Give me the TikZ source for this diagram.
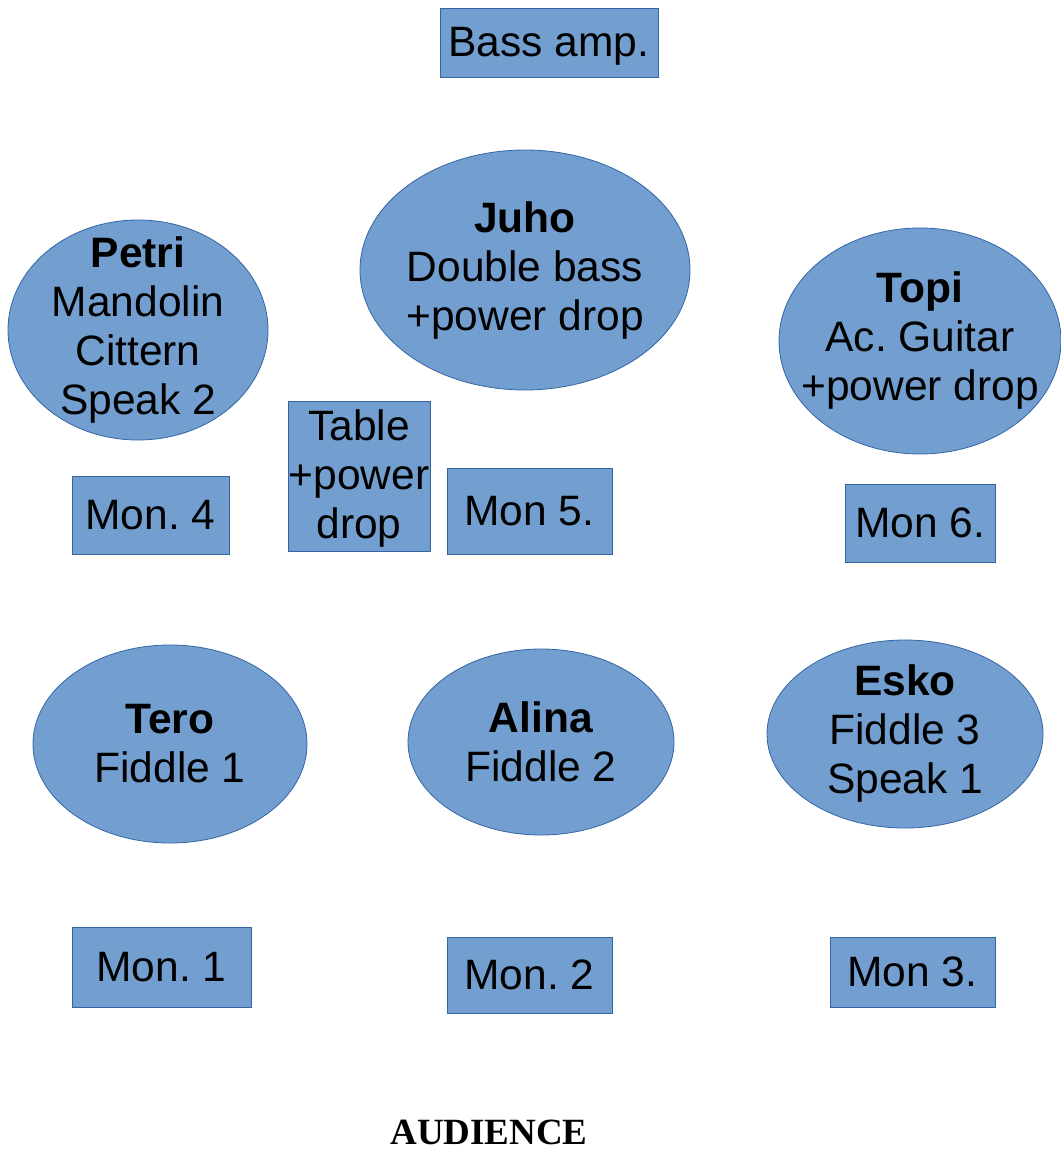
\documentclass[tikz,border=0pt]{standalone}
\usepackage{fontspec}
\setmainfont{Liberation Sans}
\newfontfamily\audfont{Liberation Serif}
\usetikzlibrary{shapes.geometric}
\frenchspacing
\definecolor{shapefill}{HTML}{729FCF}
\definecolor{shapeline}{HTML}{3465A4}
\tikzset{
  box/.style={draw=shapeline, fill=shapefill, line width=0.8pt, rectangle, inner sep=0pt},
  oval/.style={draw=shapeline, fill=shapefill, line width=0.8pt, ellipse, inner sep=0pt},
  txt/.style={align=center, inner sep=0pt, font=\fontsize{42.5}{49}\selectfont, text=black},
}
\newcommand{\mkbox}[5]{% name, x1, y1, x2, y2
  \node[box, minimum width={(#4-#2)*1pt}, minimum height={(#5-#3)*1pt}] (#1) at ({(#2+#4)/2},{(#3+#5)/2}) {};}
\newcommand{\mkoval}[5]{% name, cx, cy, rx, ry
  \node[oval, minimum width={2*#4*1pt}, minimum height={2*#5*1pt}] (#1) at (#2,#3) {};}
\begin{document}
\begin{tikzpicture}[x=1pt,y=-1pt]
\useasboundingbox (0,0) rectangle (1060,1153);
% top
\mkbox{bass}{440}{8}{658}{77}
\node[txt] (bass-t) at ([yshift=-4pt]bass.center) {Bass amp.};
% ellipses row 1
\mkoval{juho}{525}{270}{165}{120}
\node[txt] (juho-t) at ([yshift=-1pt]juho.center) {\textbf{Juho}\\Double bass\\+power drop};
\mkoval{petri}{138}{330}{130}{110}
\node[txt] (petri-t) at (petri) {\textbf{Petri}\\Mandolin\\Cittern\\Speak 2};
\mkoval{topi}{920}{341}{141}{113}
\node[txt] (topi-t) at (topi) {\textbf{Topi}\\Ac. Guitar\\+power drop};
% boxes row 1
\mkbox{table}{288}{401}{430}{551}
\node[txt] (table-t) at ([yshift=-3pt]table.center) {Table\\+power\\drop};
\mkbox{mon4}{72}{476}{229}{554}
\node[txt] (mon4-t) at (mon4) {Mon. 4};
\mkbox{mon5}{447}{468}{612}{554}
\node[txt] (mon5-t) at (mon5) {Mon 5.};
\mkbox{mon6}{845}{484}{995}{562}
\node[txt] (mon6-t) at (mon6) {Mon 6.};
% ellipses row 2
\mkoval{tero}{170}{744}{137}{99}
\node[txt] (tero-t) at (tero) {\textbf{Tero}\\Fiddle 1};
\mkoval{alina}{541}{742}{133}{93}
\node[txt] (alina-t) at (alina) {\textbf{Alina}\\Fiddle 2};
\mkoval{esko}{905}{734}{138}{94}
\node[txt] (esko-t) at (esko) {\textbf{Esko}\\Fiddle 3\\Speak 1};
% boxes row 2
\mkbox{mon1}{72}{927}{251}{1007}
\node[txt] (mon1-t) at (mon1) {Mon. 1};
\mkbox{mon2}{447}{937}{612}{1013}
\node[txt] (mon2-t) at (mon2) {Mon. 2};
\mkbox{mon3}{830}{937}{995}{1007}
\node[txt] (mon3-t) at (mon3) {Mon 3.};
% audience
\node[inner sep=0pt, font=\audfont\bfseries\fontsize{37}{40}\selectfont] (aud) at (489,1132) {AUDIENCE};
\end{tikzpicture}
\end{document}
